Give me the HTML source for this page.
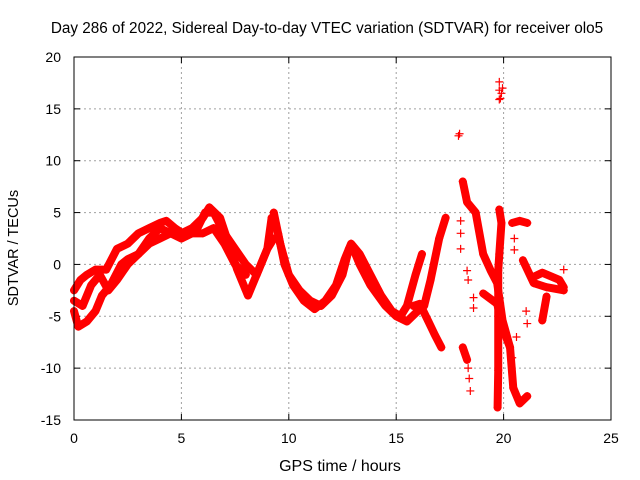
<!DOCTYPE html>
<html><head><meta charset="utf-8"><style>
body{margin:0;background:#fff}
svg{display:block;font-family:"Liberation Sans",sans-serif}
</style></head><body>
<svg id="c" width="640" height="480" viewBox="0 0 640 480">
<rect width="640" height="480" fill="#fff"/>
<text x="327" y="33" font-size="15.3" text-anchor="middle">Day 286 of 2022, Sidereal Day-to-day VTEC variation (SDTVAR) for receiver olo5</text>
<text x="340" y="471" font-size="16" text-anchor="middle">GPS time / hours</text>
<text x="18" y="248" font-size="14.5" text-anchor="middle" transform="rotate(-90 18 248)">SDTVAR / TECUs</text>
<g id="grid"></g>
<g id="ticks"></g>
<g id="marks"></g>
<rect x="74" y="57" width="537" height="363" fill="none" stroke="#000" stroke-width="1"/>
</svg>
<script>
const xTicks=[0,5,10,15,20,25];
const yTicks=[-15,-10,-5,0,5,10,15,20];
const track1=[[0,-4.5],[0.2,-6],[0.6,-5.5],[1.0,-4.5],[1.3,-3],[1.7,-2],[2.2,0],[2.5,0.5],[3,1],[3.5,2],[4,2.5],[4.5,3],[5,3],[5.5,3.5],[6,4.5],[6.3,5.5],[6.8,4.5],[7.2,2],[7.6,-0.5],[8,-2.5],[8.1,-3],[8.5,-1],[9,1.5],[9.3,2.5]];
const track2=[[0,-2.5],[0.3,-1.5],[0.6,-1],[1,-0.5],[1.5,-0.5],[2,1.5],[2.5,2],[3,3],[3.5,3.5],[4,4],[4.3,4.2],[4.7,3.5],[5.2,2.8],[5.7,3.3],[6.1,5],[6.5,5],[7,3],[7.5,1.5],[8,0],[8.5,-1],[9,1.5],[9.2,4.5]];
const track3=[[0,-3.5],[0.4,-4],[0.8,-2],[1.2,-1],[1.6,-2.5],[2,-1.5],[2.5,0],[3,1],[3.5,2.5],[4,3.5],[4.5,3],[5,2.5],[5.5,3],[6,3],[6.5,3.5],[7,2],[7.5,0],[8,-1]];
const track4=[[9.3,5],[9.6,2],[10,-1],[10.5,-2.5],[11,-3.5],[11.5,-4],[12,-3],[12.5,-1],[12.8,1.5],[13,1.5],[13.3,0],[13.8,-2],[14.5,-4],[15,-5],[15.5,-5.5],[16,-4.5],[16.3,-4],[16.6,-1.5],[17,2.5],[17.3,4.5]];
const track5=[[9.5,3],[9.8,0],[10.2,-2],[10.7,-3.5],[11.2,-4.3],[11.7,-3.5],[12.2,-2],[12.6,0.5],[12.9,2],[13.3,1],[13.8,-1],[14.3,-3],[14.8,-4.5],[15.2,-5],[15.5,-4],[15.9,-1],[16.2,1]];
const track6=[[15.8,-4],[16.1,-3.8],[16.5,-5.5],[16.8,-6.8],[17.1,-8]];
const track7=[[18.1,8],[18.3,6],[18.7,5],[19.05,1],[19.4,-0.6],[19.7,-1.8],[19.95,-5.4],[20.3,-8],[20.45,-11.9],[20.75,-13.4],[21.1,-12.7]];
const track8=[[19.05,-2.8],[19.7,-3.8],[20,-6.4],[20.3,-8]];
const track9=[[19.8,5.3],[19.9,4],[19.8,1],[19.75,-0.6],[19.75,-5],[19.75,-10.2],[19.72,-13.8]];
const track10=[[20.9,0.4],[21.4,-1.8],[22.0,-2.2],[22.8,-2.5]];
const track11=[[21.4,-1.2],[21.8,-0.8],[22.6,-1.5],[22.8,-2.2]];
const track12=[[22.0,-3.1],[21.8,-5.4]];
const track13=[[20.4,4],[20.75,4.2],[21.1,4]];
const track14=[[18.1,-8],[18.3,-9.2]];
const sparse=[[17.9,12.4],[17.95,12.6],[19.8,16.8],[19.8,17.6],[19.85,16],[19.9,16.5],[19.95,17],[19.8,15.9],[18.0,3.0],[18.0,1.5],[18.0,4.2],[20.5,1.4],[20.5,2.5],[21.1,-5.7],[21.05,-4.5],[18.3,-0.6],[18.35,-1.5],[18.6,-3.2],[18.6,-4.2],[18.45,-12.2],[18.4,-11],[18.35,-10],[22.8,-0.5],[20.6,-7],[20.4,-9]];
const lineTracks=[track1,track2,track3,track4,track5,track6,track7,track8,track9,track10,track11,track12,track13,track14];
const NS="http://www.w3.org/2000/svg";
const X=v=>74+v*(537/25), Y=v=>57+(20-v)*(363/35);
function mk(t,a,p){const e=document.createElementNS(NS,t);for(const k in a)e.setAttribute(k,a[k]);p.appendChild(e);return e;}
const grid=document.getElementById('grid'),ticks=document.getElementById('ticks'),marks=document.getElementById('marks');
xTicks.forEach(t=>{
 if(t>0&&t<25){const l=mk('line',{x1:X(t),x2:X(t),y1:57,y2:420,stroke:'#a0a0a0','stroke-dasharray':'2,3'},grid);
 
 }
 mk('line',{x1:X(t),x2:X(t),y1:420,y2:414,stroke:'#000'},ticks);
 mk('line',{x1:X(t),x2:X(t),y1:57,y2:63,stroke:'#000'},ticks);
 const tx=mk('text',{x:X(t),y:443,'font-size':14,'text-anchor':'middle'},ticks);tx.textContent=t;
 
 
});
yTicks.forEach(t=>{
 if(t>-15&&t<20){const l=mk('line',{x1:74,x2:611,y1:Y(t),y2:Y(t),stroke:'#a0a0a0','stroke-dasharray':'2,3'},grid);
 
 }
 mk('line',{x1:74,x2:80,y1:Y(t),y2:Y(t),stroke:'#000'},ticks);
 mk('line',{x1:611,x2:605,y1:Y(t),y2:Y(t),stroke:'#000'},ticks);
 const tx=mk('text',{x:61,y:Y(t)+5,'font-size':14,'text-anchor':'end'},ticks);tx.textContent=t;
 
 
});
function plus(p){const x=X(p[0]),y=Y(p[1]);
 const e=mk('path',{d:`M${x-4},${y}h8M${x},${y-4}v8`,stroke:'#f00','stroke-width':1.2,fill:'none'},marks);
 
 }
lineTracks.forEach(tr=>{
 const pl=mk('polyline',{points:tr.map(p=>X(p[0])+','+Y(p[1])).join(' '),fill:'none',stroke:'#f00','stroke-width':8,'stroke-linejoin':'round','stroke-linecap':'round'},marks);
 
 
 tr.forEach(plus);
});
sparse.forEach(plus);
</script>
</body></html>
